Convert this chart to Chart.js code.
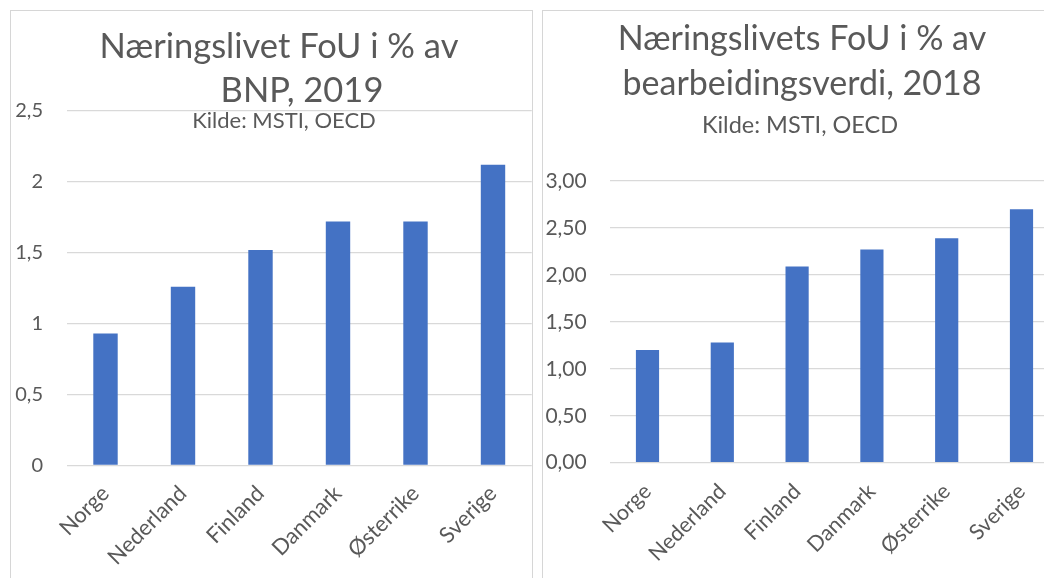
<!DOCTYPE html>
<html>
<head>
<meta charset="utf-8">
<script src="https://cdn.jsdelivr.net/npm/chart.js@4.4.1/dist/chart.umd.min.js"></script>
<style>
  html, body { margin:0; padding:0; width:1044px; height:578px; overflow:hidden; background:#fff; }
  .frame { position:absolute; border:1px solid #d6d6d6; box-sizing:border-box; }
  canvas { position:absolute; }
</style>
</head>
<body>
<div class="frame" style="left:10px; top:10px; width:523px; height:600px;"></div>
<div class="frame" style="left:542px; top:10px; width:540px; height:600px;"></div>
<canvas id="c1" width="521" height="568" style="left:11px; top:10px;"></canvas>
<canvas id="c2" width="520" height="568" style="left:542px; top:10px;"></canvas>
<script>
// ---- data ----
const categories = ['Norge', 'Nederland', 'Finland', 'Danmark', 'Østerrike', 'Sverige'];
const bnpValues = [0.93, 1.26, 1.52, 1.72, 1.72, 2.12];
const bearbValues = [1.20, 1.28, 2.09, 2.27, 2.39, 2.70];
const bnpTitle = ['Næringslivet FoU i % av', 'BNP, 2019'];
const bearbTitle = ['Næringslivets FoU i % av', 'bearbeidingsverdi, 2018'];
const sourceText = 'Kilde: MSTI, OECD';

const FONT = 'Lato, "Open Sans", sans-serif';
const TEXT = '#595959';
const GRID = '#d9d9d9';
const BAR = '#4472C4';

function titlePlugin(lines) {
  return {
    id: 'customTitle',
    afterDraw(chart) {
      const ctx = chart.ctx;
      ctx.save();
      ctx.fillStyle = TEXT;
      ctx.textAlign = 'center';
      ctx.textBaseline = 'alphabetic';
      lines.forEach(l => {
        ctx.font = l.size + 'px ' + FONT;
        ctx.fillText(l.text, l.x, l.y);
      });
      ctx.restore();
    }
  };
}

function makeChart(id, values, cfg) {
  return new Chart(document.getElementById(id), {
    type: 'bar',
    data: {
      labels: categories,
      datasets: [{
        data: values,
        backgroundColor: BAR,
        borderWidth: 0,
        categoryPercentage: 1,
        barPercentage: cfg.barPct
      }]
    },
    options: {
      responsive: false,
      animation: false,
      events: [],
      layout: { padding: { top: cfg.top, right: cfg.right, left: 0, bottom: 0 } },
      plugins: { legend: { display: false }, tooltip: { enabled: false }, title: { display: false } },
      scales: {
        x: {
          grid: { display: false, drawTicks: false },
          border: { display: false },
          ticks: {
            color: TEXT, font: { family: FONT, size: cfg.xFont },
            minRotation: 45, maxRotation: 45, autoSkip: false, padding: cfg.xPad
          },
          afterFit(scale) { scale.height = cfg.xHeight; }
        },
        y: {
          min: 0, max: cfg.max,
          grid: { color: GRID, lineWidth: 1.3, drawTicks: false },
          border: { display: false },
          ticks: {
            stepSize: 0.5, color: TEXT, font: { family: FONT, size: cfg.yFont }, padding: cfg.yPad,
            callback: cfg.fmt
          },
          afterFit(scale) { scale.width = cfg.yWidth; }
        }
      }
    },
    plugins: [titlePlugin(cfg.titles)]
  });
}

makeChart('c1', bnpValues, {
  barPct: 0.315, top: 101, right: 0.25, xHeight: 112.6, yWidth: 55.75, yPad: 23.75,
  xFont: 22, yFont: 20, xPad: 15, max: 2.5,
  fmt: v => String(v).replace('.', ','),
  titles: [
    { text: bnpTitle[0], x: 268, y: 48, size: 34.5 },
    { text: bnpTitle[1], x: 291, y: 92, size: 34.5 },
    { text: sourceText, x: 273, y: 118, size: 22 }
  ]
});

makeChart('c2', bearbValues, {
  barPct: 0.31, top: 171, right: 3.1, xHeight: 115.3, yWidth: 68.1, yPad: 23.4,
  xFont: 21.5, yFont: 21, xPad: 16, max: 3,
  fmt: v => v.toFixed(2).replace('.', ','),
  titles: [
    { text: bearbTitle[0], x: 260, y: 40, size: 34 },
    { text: bearbTitle[1], x: 260, y: 85, size: 34 },
    { text: sourceText, x: 258, y: 123, size: 23.5 }
  ]
});
</script>
</body>
</html>
